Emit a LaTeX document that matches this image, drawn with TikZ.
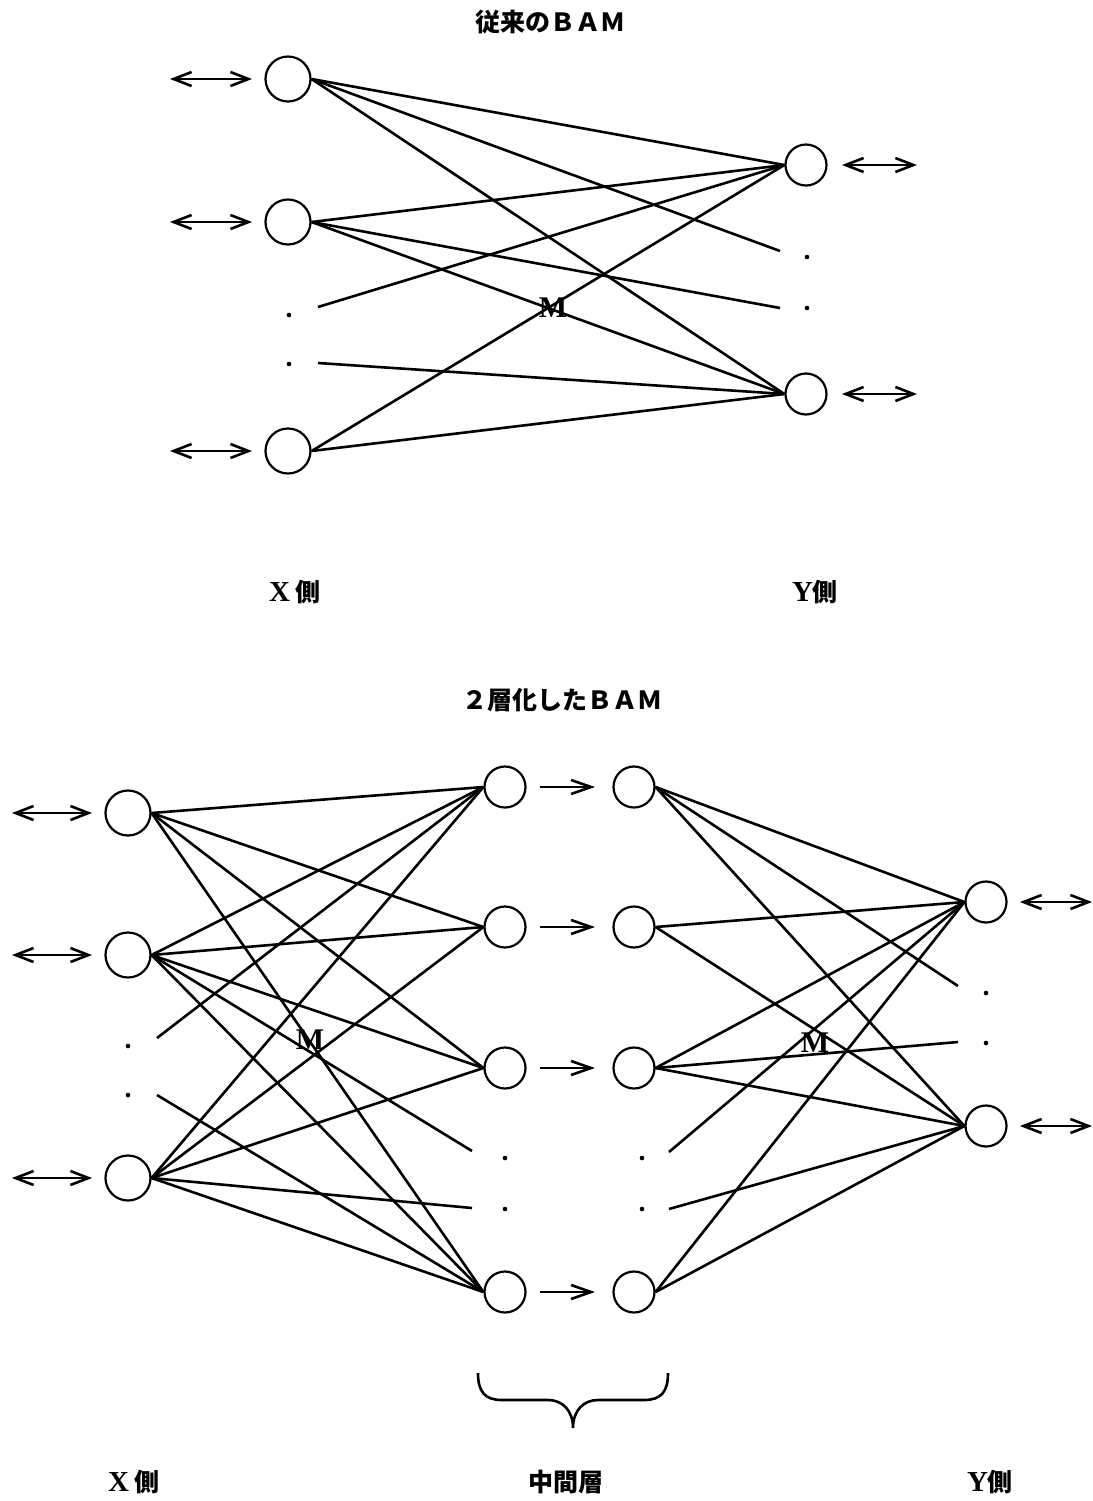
\documentclass[tikz,border=0pt]{standalone}
\usepackage{fontspec}
\setmainfont{Liberation Serif}
\newfontfamily\jpfont{Noto Sans CJK JP}
\newcommand\jpk[1]{{\jpfont\bfseries\fontsize{12.5pt}{14pt}\selectfont #1}}
\usetikzlibrary{arrows.meta}
\begin{document}
\begin{tikzpicture}[x=0.5pt,y=-0.5pt,
  xnode/.style={circle,draw,line width=1.1pt,minimum size=22.5pt,inner sep=0pt},
  unode/.style={circle,draw,line width=1.1pt,minimum size=20.5pt,inner sep=0pt},
  dotnode/.style={circle,fill,inner sep=0pt,minimum size=2.3pt},
  link/.style={line width=1.3pt},
  io/.style={line width=1.3pt,{Straight Barb[length=9pt,width=7pt]}-{Straight Barb[length=9pt,width=7pt]}},
  fwd/.style={line width=1.3pt,-{Straight Barb[length=10pt,width=7pt]}},
  title/.style={font=\jpfont\bfseries\fontsize{12.5pt}{14pt}\selectfont},
  side/.style={font=\bfseries\fontsize{14.5pt}{16pt}\selectfont},
  mlabel/.style={font=\bfseries\fontsize{15pt}{16pt}\selectfont}
]
\useasboundingbox (0,0) rectangle (1093,1501);

% ================= TOP: conventional BAM =================
\node[title] (ttitle) at (550,22) {従来のＢＡＭ};

\node[xnode] (tx1) at (288,79) {};
\node[xnode] (tx2) at (288,222) {};
\node[xnode] (tx3) at (288,451) {};
\node[dotnode] (txd1) at (289,315) {};
\node[dotnode] (txd2) at (289,364) {};
\coordinate (txs1) at (318,307);
\coordinate (txs2) at (318,363);

\node[unode] (ty1) at (806,165) {};
\node[unode] (ty2) at (806,394) {};
\node[dotnode] (tyd1) at (807,257) {};
\node[dotnode] (tyd2) at (807,308) {};
\coordinate (tys1) at (780,251);
\coordinate (tys2) at (780,308);

\draw[link] (tx1.east) -- (ty1.west);
\draw[link] (tx1.east) -- (tys1);
\draw[link] (tx1.east) -- (ty2.west);
\draw[link] (tx2.east) -- (ty1.west);
\draw[link] (tx2.east) -- (tys2);
\draw[link] (tx2.east) -- (ty2.west);
\draw[link] (tx3.east) -- (ty1.west);
\draw[link] (tx3.east) -- (ty2.west);
\draw[link] (txs1) -- (ty1.west);
\draw[link] (txs2) -- (ty2.west);

\node[mlabel] (tm) at (553,308) {M};

\foreach \n/\y in {1/79,2/222,3/451}{
  \coordinate (tal\n) at (170,\y);
  \coordinate (tar\n) at (252,\y);
  \draw[io] (tal\n) -- (tar\n);
}
\foreach \n/\y in {1/165,2/394}{
  \coordinate (tbl\n) at (842,\y);
  \coordinate (tbr\n) at (917,\y);
  \draw[io] (tbl\n) -- (tbr\n);
}

\node[side] (tlx) at (295,592) {X\hspace{3pt}\jpk{側}};
\node[side] (tly) at (815,592) {Y\jpk{側}};

% ================= BOTTOM: two-layer BAM =================
\node[title] (btitle) at (562,700) {２層化したＢＡＭ};

\node[xnode] (bx1) at (128,813) {};
\node[xnode] (bx2) at (128,955) {};
\node[xnode] (bx3) at (128,1178) {};
\node[dotnode] (bxd1) at (128,1046) {};
\node[dotnode] (bxd2) at (128,1095) {};
\coordinate (bxs1) at (157,1038);
\coordinate (bxs2) at (157,1095);

\node[unode] (ba1) at (505,787) {};
\node[unode] (ba2) at (505,927) {};
\node[unode] (ba3) at (505,1068) {};
\node[unode] (ba4) at (505,1292) {};
\node[dotnode] (bad1) at (505,1158) {};
\node[dotnode] (bad2) at (505,1209) {};
\coordinate (bas1) at (472,1151);
\coordinate (bas2) at (472,1208);

\node[unode] (bb1) at (634,787) {};
\node[unode] (bb2) at (634,927) {};
\node[unode] (bb3) at (634,1068) {};
\node[unode] (bb4) at (634,1292) {};
\node[dotnode] (bbd1) at (642,1158) {};
\node[dotnode] (bbd2) at (642,1209) {};
\coordinate (bbs1) at (669,1152);
\coordinate (bbs2) at (669,1209);

\node[unode] (by1) at (986,902) {};
\node[unode] (by2) at (986,1126) {};
\node[dotnode] (byd1) at (986,993) {};
\node[dotnode] (byd2) at (986,1043) {};
\coordinate (bys1) at (958,986);
\coordinate (bys2) at (958,1042);

% X -> A
\draw[link] (bx1.east) -- (ba1.west);
\draw[link] (bx1.east) -- (ba2.west);
\draw[link] (bx1.east) -- (ba3.west);
\draw[link] (bx1.east) -- (ba4.west);
\draw[link] (bx2.east) -- (ba1.west);
\draw[link] (bx2.east) -- (ba2.west);
\draw[link] (bx2.east) -- (ba3.west);
\draw[link] (bx2.east) -- (bas1);
\draw[link] (bx2.east) -- (ba4.west);
\draw[link] (bx3.east) -- (ba1.west);
\draw[link] (bx3.east) -- (ba2.west);
\draw[link] (bx3.east) -- (ba3.west);
\draw[link] (bx3.east) -- (bas2);
\draw[link] (bx3.east) -- (ba4.west);
\draw[link] (bxs1) -- (ba1.west);
\draw[link] (bxs2) -- (ba4.west);

% B -> Y
\draw[link] (bb1.east) -- (by1.west);
\draw[link] (bb1.east) -- (bys1);
\draw[link] (bb1.east) -- (by2.west);
\draw[link] (bb2.east) -- (by1.west);
\draw[link] (bb2.east) -- (by2.west);
\draw[link] (bb3.east) -- (by1.west);
\draw[link] (bb3.east) -- (bys2);
\draw[link] (bb3.east) -- (by2.west);
\draw[link] (bbs1) -- (by1.west);
\draw[link] (bbs2) -- (by2.west);
\draw[link] (bb4.east) -- (by1.west);
\draw[link] (bb4.east) -- (by2.west);

\node[mlabel] (bm1) at (310,1040) {M};
\node[mlabel] (bm2) at (815,1043) {M};

\foreach \n/\y in {1/813,2/955,3/1178}{
  \coordinate (bal\n) at (12,\y);
  \coordinate (bar\n) at (92,\y);
  \draw[io] (bal\n) -- (bar\n);
}
\foreach \n/\y in {1/902,2/1126}{
  \coordinate (bcl\n) at (1020,\y);
  \coordinate (bcr\n) at (1092,\y);
  \draw[io] (bcl\n) -- (bcr\n);
}
\foreach \n/\y in {1/787,2/927,3/1068,4/1292}{
  \coordinate (bml\n) at (540,\y);
  \coordinate (bmr\n) at (595,\y);
  \draw[fwd] (bml\n) -- (bmr\n);
}

% brace
\draw[line width=1.3pt] (478,1373)
  .. controls (478,1392) and (485,1400) .. (502,1400) -- (548,1400)
  .. controls (562,1400) and (573,1410) .. (573,1428)
  .. controls (573,1410) and (584,1400) .. (598,1400) -- (644,1400)
  .. controls (661,1400) and (668,1392) .. (668,1373);

\node[side] (blx) at (134,1482) {X\hspace{3pt}\jpk{側}};
\node[title] (blm) at (566,1482) {中間層};
\node[side] (bly) at (990,1482) {Y\jpk{側}};
\end{tikzpicture}
\end{document}
